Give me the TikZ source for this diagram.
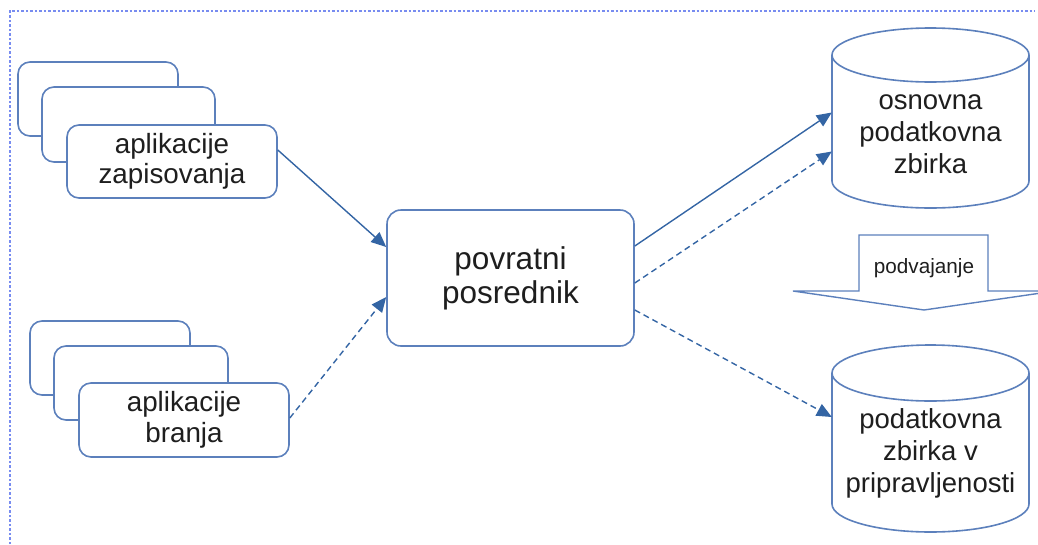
\documentclass[tikz,border=0pt]{standalone}
\usepackage{fontspec}
\setmainfont{Liberation Sans}
\usetikzlibrary{arrows.meta}
\definecolor{boxblue}{RGB}{92,128,188}
\definecolor{arrblue}{RGB}{52,101,164}
\definecolor{frameblue}{RGB}{120,140,240}
\definecolor{txt}{RGB}{30,30,30}
\tikzset{
  appbox/.style={draw=boxblue, line width=1.6pt, fill=white, rounded corners=12pt, inner sep=0pt},
  proxybox/.style={draw=boxblue, line width=1.6pt, fill=white, rounded corners=14pt, inner sep=0pt,
    minimum width=247pt, minimum height=136pt, align=center, text=txt, font=\fontsize{31.5}{34}\selectfont},
  dbline/.style={draw=boxblue, line width=1.6pt, fill=white},
  conn/.style={draw=arrblue, line width=1.4pt, -{Triangle[length=15pt,width=13pt]}},
  dconn/.style={conn, dash pattern=on 6pt off 4pt},
  apptext/.style={text=txt, align=center, font=\fontsize{27.8}{30.5}\selectfont},
  dbtext/.style={text=txt, align=center, font=\fontsize{27.5}{32}\selectfont},
}
\begin{document}
\begin{tikzpicture}[x=1pt,y=-1pt]
\useasboundingbox (0,0) rectangle (1038,544);
% frame
\draw[frameblue, line width=1.3pt, dash pattern=on 2.5pt off 2pt] (10,544) -- (10,11) -- (1035,11);

% write applications stack
\node[appbox, minimum width=160pt, minimum height=74pt] (s1a) at (98,99) {};
\node[appbox, minimum width=173pt, minimum height=75pt] (s1b) at (128.5,124.5) {};
\node[appbox, minimum width=210pt, minimum height=73pt, apptext] (s1c) at (172,161.5) {aplikacije\\zapisovanja};

% read applications stack
\node[appbox, minimum width=160pt, minimum height=74pt] (s2a) at (110,358) {};
\node[appbox, minimum width=174pt, minimum height=74pt] (s2b) at (141,383) {};
\node[appbox, minimum width=210pt, minimum height=74pt, apptext] (s2c) at (184,420) {aplikacije\\branja};

% proxy
\node[proxybox] (proxy) at (510.5,278) {povratni\\posrednik};

% databases
\node[minimum width=197pt, minimum height=181pt, inner sep=0pt] (db1) at (930.5,117.5) {};
\draw[dbline] (832,55) -- (832,181) arc[start angle=180, end angle=360, x radius=98.5pt, y radius=27pt] -- (1029,55) arc[start angle=0, end angle=180, x radius=98.5pt, y radius=27pt] -- cycle;
\draw[dbline, fill=none] (832,55) arc[start angle=180, end angle=360, x radius=98.5pt, y radius=27pt];
\node[dbtext] (db1t) at (930.5,134) {osnovna\\podatkovna\\zbirka};

\node[minimum width=197pt, minimum height=187pt, inner sep=0pt] (db2) at (930.5,438.5) {};
\draw[dbline] (832,373) -- (832,504) arc[start angle=180, end angle=360, x radius=98.5pt, y radius=28pt] -- (1029,373) arc[start angle=0, end angle=180, x radius=98.5pt, y radius=28pt] -- cycle;
\draw[dbline, fill=none] (832,373) arc[start angle=180, end angle=360, x radius=98.5pt, y radius=28pt];
\node[dbtext] (db2t) at (930.5,453) {podatkovna\\zbirka v\\pripravljenosti};

% replication arrow
\draw[dbline, line width=1.4pt] (859,235) -- (988,235) -- (988,291) -- (1055,291) -- (924,310) -- (793,291) -- (859,291) -- cycle;
\node[text=txt, font=\fontsize{20.7}{24}\selectfont] (dup) at (924,268) {podvajanje};

% connectors
\draw[conn] ([yshift=11.5pt]s1c.east) -- ([yshift=31pt]proxy.west);
\draw[dconn] ([yshift=2pt]s2c.east) -- ([yshift=-19pt]proxy.west);
\draw[conn] ([yshift=32pt]proxy.east) -- ([yshift=5pt]db1.west);
\draw[dconn] ([yshift=-5pt]proxy.east) -- ([yshift=-34pt]db1.west);
\draw[dconn] ([yshift=-32pt]proxy.east) -- ([yshift=21.5pt]db2.west);
\end{tikzpicture}
\end{document}
